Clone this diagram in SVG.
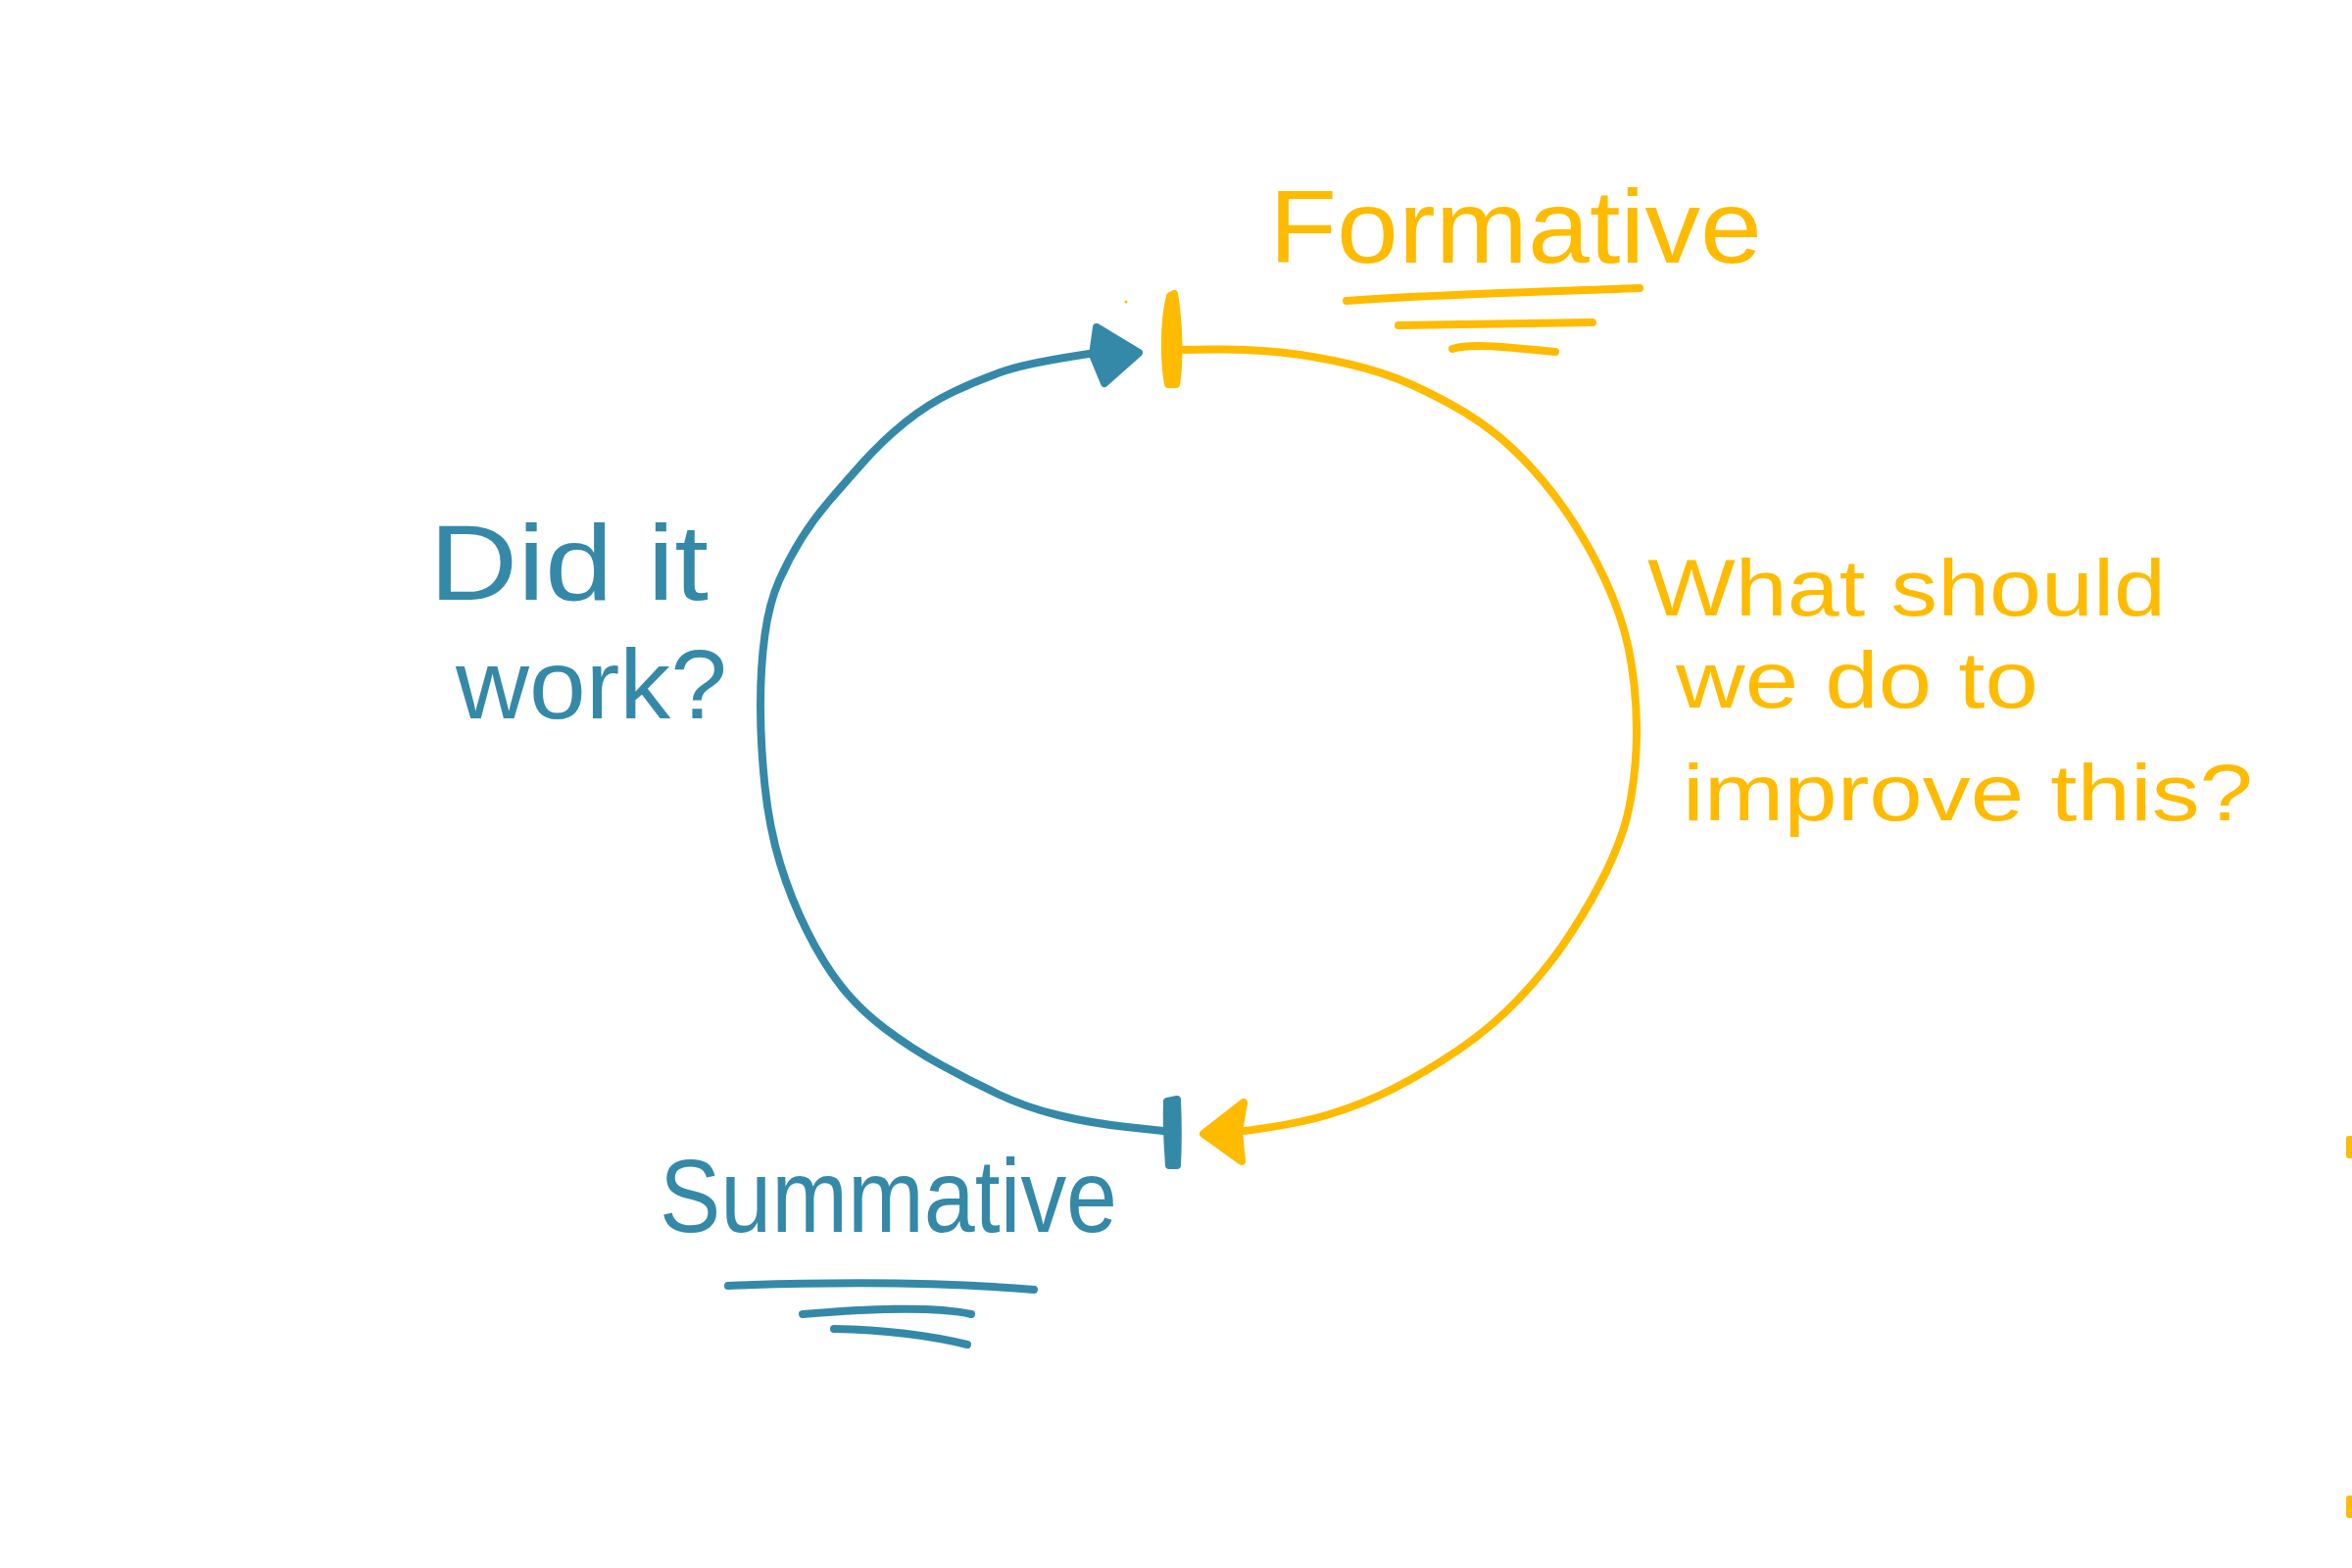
<svg xmlns="http://www.w3.org/2000/svg" width="2400" height="1600" viewBox="0 0 2400 1600">
<style>
.teal{stroke:#3589a8;fill:none;stroke-width:8;stroke-linecap:round;stroke-linejoin:round}
.yel{stroke:#ffbb00;fill:none;stroke-width:8;stroke-linecap:round;stroke-linejoin:round}
.tealfill{fill:#3589a8;stroke:#3589a8;stroke-width:8;stroke-linejoin:round}
.yelfill{fill:#ffbb00;stroke:#ffbb00;stroke-width:8;stroke-linejoin:round}
.tt{fill:#3589a8;font-family:"Liberation Sans",Arial,sans-serif}
.yt{fill:#ffbb00;font-family:"Liberation Sans",Arial,sans-serif}
</style>
<rect width="2400" height="1600" fill="#ffffff"/>
<g id="connectors">
<path class="teal" d="M1187,1154 L1150,1150 Q1113,1146 1080,1138 Q1047,1130 1018.5,1116.5 Q990,1103 960,1086.5 Q930,1070 903.5,1050 Q877,1030 858.5,1006.5 Q840,983 823.5,950 Q807,917 796,881 Q785,845 780.5,802.5 Q776,760 776,720 Q776,680 780.5,647.5 Q785,615 795,592.5 Q805,570 817.5,550 Q830,530 845,512.5 Q860,495 880,472.5 Q900,450 923.5,431 Q947,412 973.5,399.5 Q1000,387 1025,378.5 Q1050,370 1118,360"/>
<polygon class="tealfill" points="1119,334 1162,360 1127,391 1115,362"/>
<path class="yel" d="M1205,357 L1239,356.5 Q1273,356 1306.5,359.5 Q1340,363 1376.5,371.5 Q1413,380 1441.5,393 Q1470,406 1495,421 Q1520,436 1542.5,457 Q1565,478 1585,504 Q1605,530 1622.5,561.5 Q1640,593 1651.5,625 Q1663,657 1667.5,698.5 Q1672,740 1668.5,780 Q1665,820 1656.5,846.5 Q1648,873 1631.5,904 Q1615,935 1595,964 Q1575,993 1547.5,1021.5 Q1520,1050 1486.5,1072.5 Q1453,1095 1421.5,1111 Q1390,1127 1355,1137.5 Q1320,1148 1262,1155"/>
<polygon class="yelfill" points="1228,1157 1269,1125 1264,1155 1267,1185"/>
<path d="M1194,302 C1187,330 1188,370 1192,392 L1200,392 C1204,370 1203,330 1198,300 Z" fill="#ffbb00" stroke="#ffbb00" stroke-width="8" stroke-linejoin="round"/>
<path d="M1191,1124 C1190,1150 1192,1175 1193,1189 L1201,1189 C1202,1170 1202,1145 1201,1122 Z" fill="#3589a8" stroke="#3589a8" stroke-width="8" stroke-linejoin="round"/>
<circle cx="1149" cy="308" r="1.5" fill="#ffbb00"/>
</g>
<g id="formative">
<text class="yt" x="1295" y="268" font-size="105" textLength="503" lengthAdjust="spacingAndGlyphs">Formative</text>
<path class="yel" d="M1374,307 C1470,300 1570,298 1673,294"/>
<path class="yel" d="M1427,332 C1490,331 1560,330 1625,329"/>
<path class="yel" d="M1482,356 C1500,350 1540,354 1587,359"/>
</g>
<g id="improve-question">
<text class="yt" x="1681" y="628" font-size="82" textLength="529" lengthAdjust="spacingAndGlyphs">What should</text>
<text class="yt" x="1710" y="722" font-size="82" textLength="370" lengthAdjust="spacingAndGlyphs">we do to</text>
<text class="yt" x="1717" y="837" font-size="82" textLength="582" lengthAdjust="spacingAndGlyphs">improve this?</text>
</g>
<g id="did-it-work">
<text class="tt" x="438" y="612" font-size="110" textLength="285" lengthAdjust="spacingAndGlyphs">Did it</text>
<text class="tt" x="465" y="733" font-size="100" textLength="277" lengthAdjust="spacingAndGlyphs">work?</text>
</g>
<g id="summative">
<text class="tt" x="673" y="1257" font-size="105" textLength="467" lengthAdjust="spacingAndGlyphs">Summative</text>
<path class="teal" d="M743,1312 C850,1308 960,1308 1055,1316"/>
<path class="teal" d="M819,1341 C880,1336 950,1332 991,1341"/>
<path class="teal" d="M851,1356 C900,1357 950,1363 987,1372"/>
</g>
<g id="edge-marks">
<rect x="2394" y="1159" width="8" height="23" rx="3" fill="#ffbb00"/>
<rect x="2394" y="1526" width="8" height="23" rx="3" fill="#ffbb00"/>
</g>
</svg>
